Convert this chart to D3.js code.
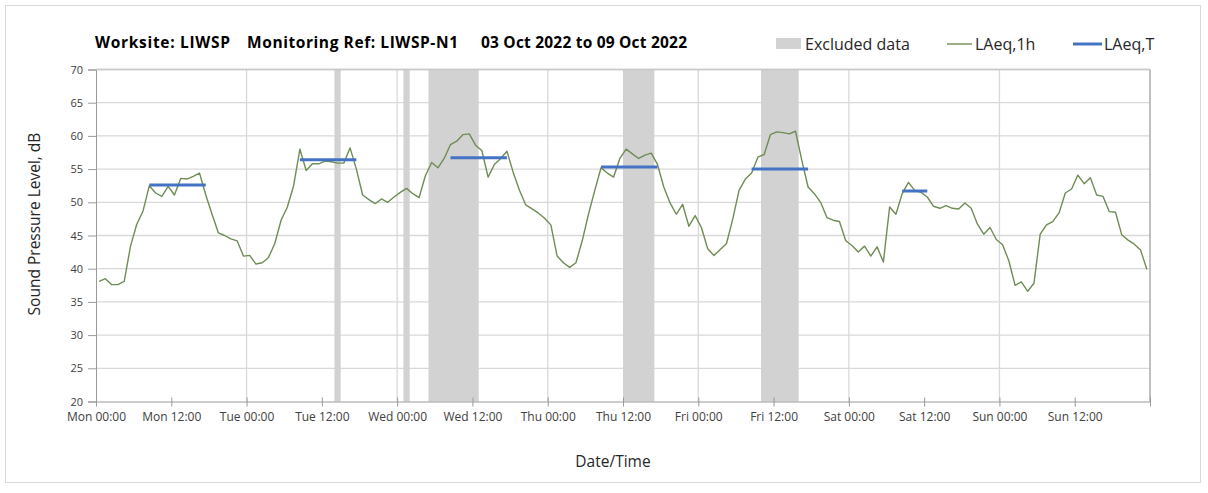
<!DOCTYPE html>
<html>
<head>
<meta charset="utf-8">
<script src="https://cdn.jsdelivr.net/npm/d3@7"></script>
<style>
  html, body { margin: 0; padding: 0; background: #fff; }
  svg { display: block; }
  text { font-family: "Open Sans", "Noto Sans", sans-serif; }
</style>
</head>
<body>
<svg id="chart" width="1208" height="493"></svg>
<script>
// ---- DATA ----
const titleParts = ["Worksite: LIWSP", "Monitoring Ref: LIWSP-N1", "03 Oct 2022 to 09 Oct 2022"];
const seriesStart = "2022-10-03T00:00:00Z";   // first hourly LAeq,1h period
const seriesEnd = "2022-10-10T00:00:00Z";
// Hourly LAeq,1h values, dB (168 hours, Mon 00:00 to Sun 23:00)
const laeq1h = [
  38.1, 38.5, 37.6, 37.6, 38.1, 43.4, 46.7, 48.7, 52.5, 51.4, 50.9, 52.4,
  51.1, 53.6, 53.5, 53.9, 54.4, 51.1, 48.2, 45.4, 45.0, 44.5, 44.2, 41.9,
  42.0, 40.7, 40.9, 41.7, 43.8, 47.3, 49.3, 52.5, 58.0, 54.8, 55.8, 55.8,
  56.2, 56.1, 55.9, 55.9, 58.2, 55.0, 51.1, 50.4, 49.8, 50.5, 50.0, 50.8,
  51.5, 52.1, 51.3, 50.7, 54.0, 56.0, 55.2, 56.6, 58.7, 59.2, 60.2, 60.3,
  58.6, 57.8, 53.8, 55.7, 56.6, 57.7, 54.5, 51.8, 49.6, 49.0, 48.4, 47.6,
  46.6, 41.9, 40.9, 40.2, 40.9, 44.2, 48.2, 51.8, 55.2, 54.4, 53.8, 56.6,
  58.0, 57.3, 56.6, 57.1, 57.4, 55.7, 52.3, 49.9, 48.2, 49.7, 46.4, 48.0,
  46.2, 43.0, 42.0, 42.9, 43.8, 47.5, 51.8, 53.5, 54.4, 56.8, 57.2, 60.2,
  60.6, 60.5, 60.3, 60.7, 56.3, 52.3, 51.3, 50.0, 47.7, 47.3, 47.1, 44.2,
  43.5, 42.5, 43.4, 41.9, 43.3, 41.0, 49.3, 48.2, 51.3, 53.0, 51.8, 51.5,
  50.8, 49.4, 49.1, 49.5, 49.1, 49.0, 49.9, 49.1, 46.7, 45.2, 46.2, 44.4,
  43.6, 41.2, 37.5, 38.0, 36.6, 37.8, 45.2, 46.6, 47.1, 48.4, 51.4, 52.0,
  54.1, 52.8, 53.7, 51.1, 50.9, 48.6, 48.5, 45.1, 44.3, 43.7, 42.8, 39.9
];
// LAeq,T periods
const periodStart = ["2022-10-03T08:00:00Z", "2022-10-04T08:00:00Z", "2022-10-05T08:00:00Z",
                     "2022-10-06T08:00:00Z", "2022-10-07T08:00:00Z", "2022-10-08T08:00:00Z"];
const periodEnd   = ["2022-10-03T18:00:00Z", "2022-10-04T18:00:00Z", "2022-10-05T18:00:00Z",
                     "2022-10-06T18:00:00Z", "2022-10-07T18:00:00Z", "2022-10-08T13:00:00Z"];
const laeqT = [52.6, 56.4, 56.7, 55.3, 55.0, 51.7];
// Excluded data periods
const excludedStart = ["2022-10-04T14:00:00Z", "2022-10-05T01:00:00Z", "2022-10-05T05:00:00Z",
                       "2022-10-06T12:00:00Z", "2022-10-07T10:00:00Z"];
const excludedEnd   = ["2022-10-04T15:00:00Z", "2022-10-05T02:00:00Z", "2022-10-05T13:00:00Z",
                       "2022-10-06T17:00:00Z", "2022-10-07T16:00:00Z"];
const yTicks = [20, 25, 30, 35, 40, 45, 50, 55, 60, 65, 70];
const legendLabels = ["Excluded data", "LAeq,1h", "LAeq,T"];
const xTitle = "Date/Time";
const yTitle = "Sound Pressure Level, dB";

// ---- LAYOUT ----
const W = 1208, H = 493;
const m = { left: 96, right: 1150, top: 69.5, bottom: 401.5 };
const HOUR = 3600 * 1000;
const t0 = new Date(seriesStart), t1 = new Date(seriesEnd);

const svg = d3.select("#chart");
svg.append("rect").attr("width", W).attr("height", H).attr("fill", "#fff");
svg.append("rect").attr("x", 5.5).attr("y", 5.5).attr("width", 1195).attr("height", 477)
  .attr("fill", "none").attr("stroke", "#d9d9d9").attr("stroke-width", 1);

const x = d3.scaleUtc().domain([t0, t1]).range([m.left, m.right]);
const y = d3.scaleLinear().domain([20, 70]).range([m.bottom, m.top]);

// Gridlines
const g = svg.append("g");
g.selectAll("line.hg").data(yTicks.filter(v => v > 20)).join("line")
  .attr("x1", m.left).attr("x2", m.right)
  .attr("y1", d => y(d)).attr("y2", d => y(d))
  .attr("stroke", "#d9d9d9").attr("stroke-width", 1.3);
const dayTicks = d3.utcDay.range(d3.utcDay.offset(t0, 1), d3.utcDay.offset(t1, 1));
g.selectAll("line.vg").data(dayTicks).join("line")
  .attr("x1", d => x(d)).attr("x2", d => x(d))
  .attr("y1", m.top).attr("y2", m.bottom)
  .attr("stroke", "#d9d9d9").attr("stroke-width", 1.3);

// Excluded bands
const bands = excludedStart.map((s, i) => ({ s: new Date(s), e: new Date(excludedEnd[i]) }));
svg.append("g").selectAll("rect").data(bands).join("rect")
  .attr("x", d => x(d.s)).attr("width", d => x(d.e) - x(d.s))
  .attr("y", m.top).attr("height", m.bottom - m.top)
  .attr("fill", "#d2d2d2");

// Axes
const yAxis = d3.axisLeft(y).tickValues(yTicks).tickSize(8).tickPadding(5);
const ya = svg.append("g").attr("transform", `translate(${m.left},0)`).call(yAxis);
ya.select(".domain").attr("stroke", "#9a9a9a");
ya.selectAll(".tick line").attr("stroke", "#9a9a9a");
ya.selectAll(".tick text").attr("fill", "#404040").style("font-size", "11px")
  .style("font-family", "'Open Sans', sans-serif");

const xTickVals = d3.utcHour.every(12).range(t0, d3.utcHour.offset(t1, 1));
const fmt = d3.utcFormat("%a %H:%M");
const xAxis = d3.axisBottom(x).tickValues(xTickVals)
  .tickFormat(d => (+d === +t1 ? "" : fmt(d))).tickSizeInner(5).tickSizeOuter(0).tickPadding(6);
const xa = svg.append("g").attr("transform", `translate(0,${m.bottom})`).call(xAxis);
xa.select(".domain").attr("stroke", "#9a9a9a");
xa.selectAll(".tick line").attr("stroke", "#9a9a9a").attr("y1", -4);
xa.selectAll(".tick text").attr("fill", "#404040").style("font-size", "12px")
  .style("font-family", "'Open Sans', sans-serif");

// Plot border (top & right)
svg.append("line").attr("x1", m.left).attr("x2", m.right).attr("y1", m.top).attr("y2", m.top)
  .attr("stroke", "#c8c8c8").attr("stroke-width", 1.3);
svg.append("line").attr("x1", m.right).attr("x2", m.right).attr("y1", m.top).attr("y2", m.bottom)
  .attr("stroke", "#9a9a9a").attr("stroke-width", 1);

// LAeq,1h line (hourly values plotted at mid-hour)
const pts = laeq1h.map((v, i) => ({ t: new Date(+t0 + (i + 0.5) * HOUR), v }));
svg.append("path").datum(pts)
  .attr("d", d3.line().x(d => x(d.t)).y(d => y(d.v)))
  .attr("fill", "none").attr("stroke", "#6f8c55").attr("stroke-width", 1.4)
  .attr("stroke-linejoin", "round");

// LAeq,T segments (first hour mid to last hour mid)
const periods = laeqT.map((v, i) => ({
  s: new Date(+new Date(periodStart[i]) + 0.5 * HOUR),
  e: new Date(+new Date(periodEnd[i]) - 0.5 * HOUR), v }));
svg.append("g").selectAll("line").data(periods).join("line")
  .attr("x1", d => x(d.s)).attr("x2", d => x(d.e))
  .attr("y1", d => y(d.v)).attr("y2", d => y(d.v))
  .attr("stroke", "#4472c4").attr("stroke-width", 3);

// Titles
const title = svg.append("text").attr("y", 48).attr("fill", "#000")
  .style("font-size", "15.5px").style("font-weight", "bold");
const titleX = [95, 247, 481];
const titleW = [135, 211, 206];
titleParts.forEach((p, i) => title.append("tspan").attr("x", titleX[i])
  .attr("textLength", titleW[i]).attr("lengthAdjust", "spacing").text(p));

svg.append("text").attr("x", 613).attr("y", 467).attr("text-anchor", "middle")
  .attr("fill", "#262626").style("font-size", "15.5px").text(xTitle);
svg.append("text").attr("transform", "translate(40,224) rotate(-90)").attr("text-anchor", "middle")
  .attr("fill", "#262626").style("font-size", "15.5px").text(yTitle);

// Legend
const lg = svg.append("g").style("font-size", "16px").attr("fill", "#262626");
lg.append("rect").attr("x", 776).attr("y", 38).attr("width", 25).attr("height", 11).attr("fill", "#d2d2d2");
lg.append("text").attr("x", 805).attr("y", 49.5).text(legendLabels[0]);
lg.append("line").attr("x1", 947).attr("x2", 972).attr("y1", 44).attr("y2", 44)
  .attr("stroke", "#6f8c55").attr("stroke-width", 1.4);
lg.append("text").attr("x", 975).attr("y", 49.5).text(legendLabels[1]);
lg.append("line").attr("x1", 1073).attr("x2", 1102).attr("y1", 44).attr("y2", 44)
  .attr("stroke", "#4472c4").attr("stroke-width", 3);
lg.append("text").attr("x", 1104).attr("y", 49.5).text(legendLabels[2]);
</script>
</body>
</html>
